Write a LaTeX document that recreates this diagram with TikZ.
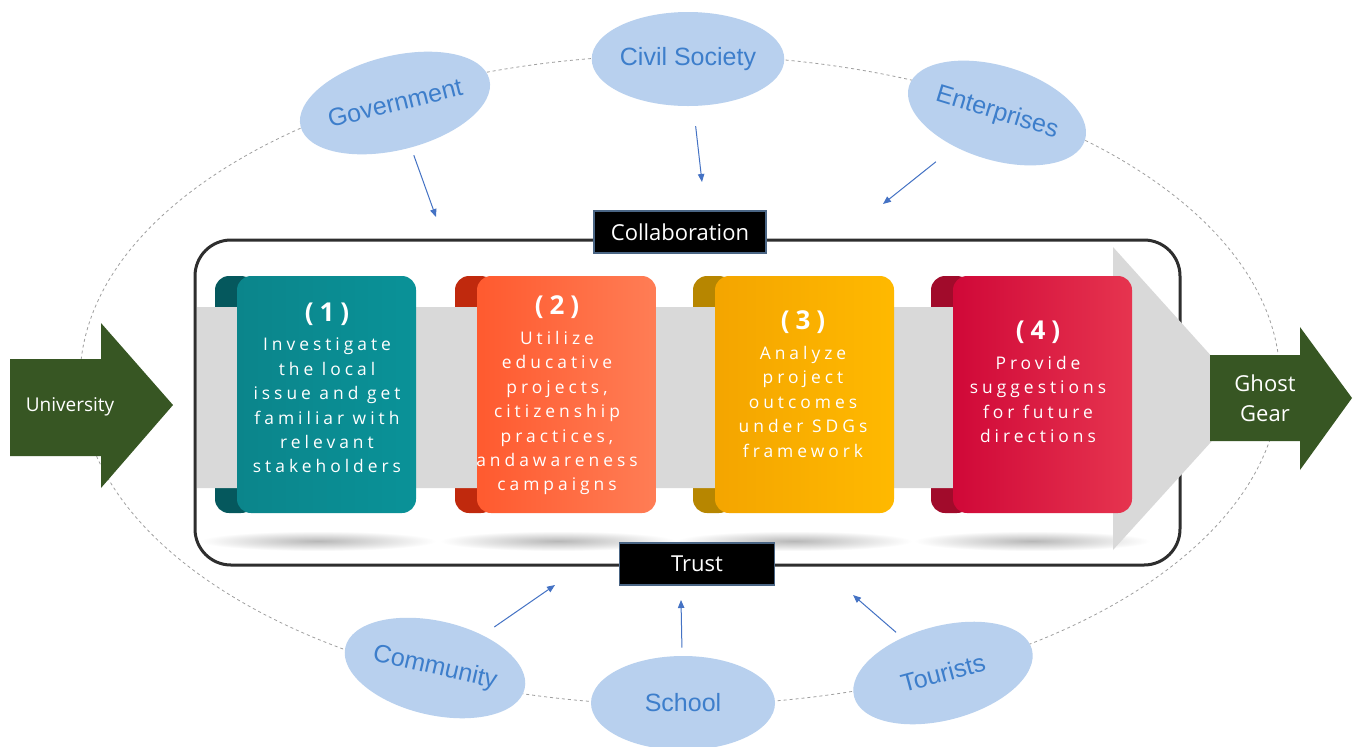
\documentclass[tikz,border=0pt]{standalone}
\usepackage{fontspec}
\newfontfamily\partyfont{Liberation Sans}
\newfontfamily\labelfont{Open Sans}
\newfontfamily\stepfont[LetterSpace=23]{Open Sans}
\usetikzlibrary{arrows.meta,positioning,shapes.geometric}
\definecolor{ink}{HTML}{2E2E2E}
\definecolor{sky}{HTML}{B8D0EE}
\definecolor{skytext}{HTML}{3D7ECB}
\definecolor{linkblue}{HTML}{4472C4}
\definecolor{tagedge}{HTML}{4A6584}
\definecolor{band}{HTML}{D9D9D9}
\definecolor{leaf}{HTML}{375623}
\definecolor{tealface}{HTML}{0B858B}
\definecolor{tealglow}{HTML}{0A9298}
\definecolor{tealcurl}{HTML}{05585D}
\definecolor{orangeface}{HTML}{FF5A2F}
\definecolor{orangeglow}{HTML}{FF7D55}
\definecolor{orangecurl}{HTML}{C0290D}
\definecolor{goldface}{HTML}{F4A500}
\definecolor{goldglow}{HTML}{FFB900}
\definecolor{goldcurl}{HTML}{B78600}
\definecolor{redface}{HTML}{D00838}
\definecolor{redglow}{HTML}{E6344F}
\definecolor{redcurl}{HTML}{A10B2B}

\begin{document}
\begin{tikzpicture}[x=.5pt,y=-.5pt,>=Latex,font=\labelfont,
  party/.style={ellipse,fill=sky,text=skytext,minimum width=92pt,minimum height=47pt,inner sep=0pt,
    font=\partyfont\fontsize{12.5}{14}\selectfont},
  feed/.style={-{Triangle[length=4pt,width=3.2pt]},draw=linkblue,line width=.5pt},
  tag/.style={fill=black,draw=tagedge,text=white,line width=.6pt,minimum height=21pt,
    font=\labelfont\fontsize{11}{12}\selectfont},
  stepnum/.style={text=white,inner sep=0pt,font=\stepfont\bfseries\fontsize{13}{15}\selectfont},
  steptext/.style={text=white,align=center,inner sep=0pt,font=\stepfont\fontsize{8.7}{12.2}\selectfont}]

\useasboundingbox (0,0) rectangle (1356,746);
\fill[white] (0,0) rectangle (1356,746);

% ring of partners
\draw[gray!75,line width=.4pt,dash pattern=on 1.5pt off 1.5pt] (680,380) ellipse [x radius=600,y radius=325];

\node[party,rotate=14] (gov) at (395,103) {Government};
\node[party] (civ) at (688,59) {Civil Society};
\node[party,rotate=-17] (ent) at (997,113) {Enterprises};
\node[party,rotate=-13] (com) at (435,668) {Community};
\node[party] (sch) at (683,703) {School};
\node[party,rotate=15] (tour) at (943,673) {Tourists};

\coordinate (govin) at (436,217);
\coordinate (civin) at (702,182);
\coordinate (entin) at (883,204);
\coordinate (comin) at (555,585);
\coordinate (schin) at (681,600);
\coordinate (tourin) at (853,595);
\draw[feed,shorten <=4pt] (gov) -- (govin);
\draw[feed,shorten <=10pt] (civ) -- (civin);
\draw[feed,shorten <=12pt] (ent) -- (entin);
\draw[feed,shorten <=7pt] (com) -- (comin);
\draw[feed,shorten <=4pt] (sch) -- (schin);
\draw[feed,shorten <=4pt] (tour) -- (tourin);

% frame
\draw[ink,line width=1.5pt,rounded corners=18pt] (195,240) rectangle (1180,565);

% shadows under the cards
\foreach \cx in {318,558,794,1032}
  \shade[inner color=black!28,outer color=white] (\cx,541) ellipse [x radius=118,y radius=10];

% curls behind the band
\foreach \x/\c in {215/teal,455/orange,693/gold,931/red}
  \fill[\c curl,rounded corners=7pt] (\x,276) rectangle (\x+40,513);

% grey band
\fill[band] (197,307) -- (1113,307) -- (1113,247) -- (1250,399) -- (1113,550) -- (1113,488) -- (197,488) -- cycle;

% card faces
\foreach \x/\c in {215/teal,455/orange,693/gold,931/red}
  \shade[left color=\c face,right color=\c glow,rounded corners=7pt] (\x+22,276) rectangle (\x+201,513);

\node[stepnum] (n1) at (327,314) {(1)};
\node[steptext,below=6pt of n1] (t1) {Investigate\\the local\\issue and get\\familiar with\\relevant\\stakeholders};
\node[stepnum] (n2) at (557,307) {(2)};
\node[steptext,below=6pt of n2] (t2) {Utilize\\educative\\projects,\\citizenship\\practices,\\andawareness\\campaigns};
\node[stepnum] (n3) at (803,322) {(3)};
\node[steptext,below=6pt of n3] (t3) {Analyze\\project\\outcomes\\under SDGs\\framework};
\node[stepnum] (n4) at (1038,332) {(4)};
\node[steptext,below=6pt of n4] (t4) {Provide\\suggestions\\for future\\directions};

% labels on the frame
\node[tag,minimum width=86pt] (collab) at (680,232) {Collaboration};
\node[tag,minimum width=77.5pt] (trust) at (697,564) {Trust};

% input and output
\fill[leaf] (10,359) -- (101,359) -- (101,323) -- (173,405) -- (101,488) -- (101,456) -- (10,456) -- cycle;
\node[text=white,font=\labelfont\fontsize{9.5}{12}\selectfont] (uni) at (70,407) {University};
\fill[leaf] (1210,355) -- (1300,355) -- (1300,327) -- (1352,398) -- (1300,470) -- (1300,441) -- (1210,441) -- cycle;
\node[text=white,align=center,font=\labelfont\fontsize{11}{15}\selectfont] (gear) at (1265,398) {Ghost\\Gear};

\end{tikzpicture}
\end{document}
